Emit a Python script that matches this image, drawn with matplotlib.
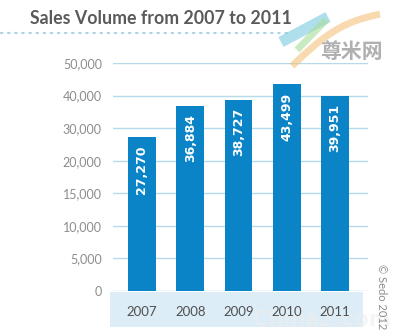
import numpy as np
import matplotlib
matplotlib.use("Agg")
import matplotlib.pyplot as plt
from matplotlib.patches import Rectangle
from matplotlib.lines import Line2D

years = ["2007", "2008", "2009", "2010", "2011"]
sales = [27270, 36884, 38727, 43499, 39951]
tick_values = [0, 5000, 10000, 15000, 20000, 30000, 40000, 50000]
tick_labels = ["0", "5,000", "10,000", "15,000", "20,000", "30,000", "40,000", "50,000"]
bar_labels = ["27,270", "36,884", "38,727", "43,499", "39,951"]

W, H = 400, 332
fig = plt.figure(figsize=(W / 100, H / 100), dpi=100)
fig.patch.set_facecolor("white")

def fx(px):
    return px / W

def fy(py):
    return 1 - py / H

# bottom band behind year labels
fig.patches.append(Rectangle((fx(110), fy(327)), fx(363) - fx(110), fy(292) - fy(327),
                             transform=fig.transFigure, facecolor="#dcedf7",
                             edgecolor="none", zorder=-5))

ax = fig.add_axes([fx(113), fy(291), fx(368) - fx(113), fy(63) - fy(291)])
ax.set_facecolor("none")
ax.set_zorder(2)

idx = np.arange(len(tick_values))
fwd = lambda v: np.interp(v, tick_values, idx)
inv = lambda u: np.interp(u, idx, tick_values)
ax.set_yscale("function", functions=(fwd, inv))
ax.set_ylim(0, 50000)

x = np.arange(len(years))
bars = ax.bar(x, sales, width=0.58, color="#0a84c6", zorder=3)
ax.set_xlim(-0.601, 4.684)

for xi, v, lab in zip(x, sales, bar_labels):
    ax.annotate(lab, (xi, v), xytext=(0, -6), textcoords="offset points",
                rotation=90, ha="center", va="top", color="white",
                fontsize=9, fontweight="bold", family="DejaVu Sans", zorder=4)

ax.set_yticks(tick_values)
ax.set_yticklabels(tick_labels)
ax.set_xticks(x)
ax.set_xticklabels(years)
ax.tick_params(axis="y", length=0, pad=8, labelsize=9, labelcolor="#8c8c8c")
ax.tick_params(axis="x", length=0, pad=11, labelsize=9.5, labelcolor="#505050")
for lab in ax.get_yticklabels() + ax.get_xticklabels():
    lab.set_family("Lato")
ax.grid(axis="y", color="#b3dbea", linewidth=1, zorder=1)
ax.set_axisbelow(True)
for s in ax.spines.values():
    s.set_visible(False)

# title and dotted rule
fig.text(fx(30), fy(18), "Sales Volume from 2007 to 2011", ha="left", va="center",
         fontsize=12.8, fontweight="bold", color="#5a5a5a", family="Lato")
fig.lines.append(Line2D([fx(1), fx(288)], [fy(33), fy(33)], transform=fig.transFigure,
                        color="#a9d3e6", linewidth=1.6, linestyle=(0, (0.6, 2.6)),
                        dash_capstyle="round"))

# copyright
fig.text(fx(381), fy(297), "© Sedo 2012", rotation=-90, ha="center", va="center",
         fontsize=8, color="#8c8c8c", family="Lato")

# watermark logo
fig.lines.append(Line2D([fx(281), fx(328)], [fy(42), fy(17)], transform=fig.transFigure,
                        color="#7ccbe0", linewidth=8, alpha=0.6, solid_capstyle="butt"))
fig.lines.append(Line2D([fx(297), fx(326)], [fy(50), fy(20)], transform=fig.transFigure,
                        color="#a8dc9a", linewidth=5, alpha=0.6, solid_capstyle="butt"))
t = np.linspace(0, 1, 30)
ox = 292 + 88 * t
oy = 66 - 52 * t - 10 * np.sin(np.pi * t)
fig.lines.append(Line2D(fx(ox), fy(oy), transform=fig.transFigure,
                        color="#f5c07a", linewidth=5, alpha=0.6, solid_capstyle="butt"))
fig.text(fx(351), fy(51), "尊米网", ha="center", va="center", fontsize=15,
         fontweight="bold", color="#b0b0b0", family=["Noto Sans CJK SC", "DejaVu Sans"])
fig.text(fx(322), fy(320), "ChinaZ.com", ha="center", va="center", fontsize=15,
         fontweight="bold", color="#eeeeee", alpha=0.6, family="DejaVu Sans", zorder=-4)

fig.savefig("out.png", dpi=100, facecolor="white")
